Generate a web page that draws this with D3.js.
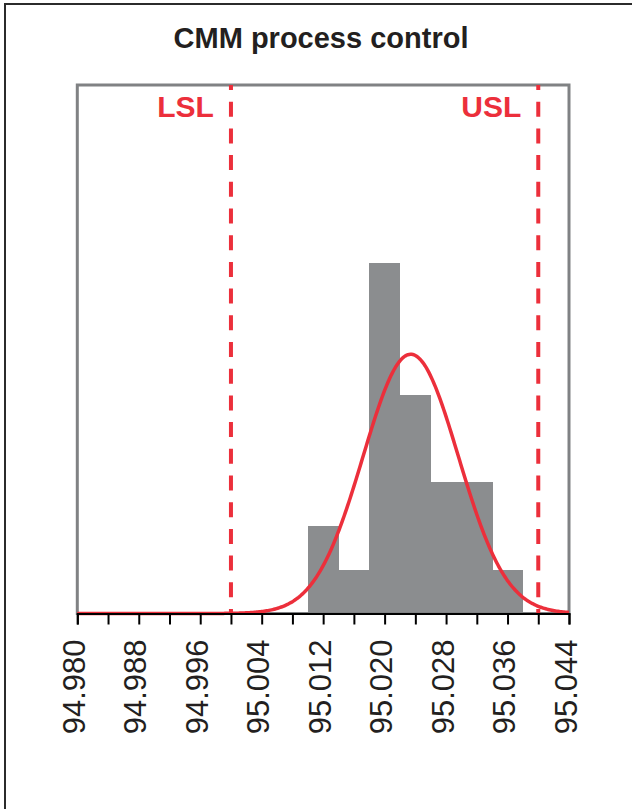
<!DOCTYPE html>
<html>
<head>
<meta charset="utf-8">
<script src="https://cdn.jsdelivr.net/npm/d3@7"></script>
<style>
  body { margin: 0; background: #fff; }
  text { font-family: "Liberation Sans", Arial, Helvetica, sans-serif; }
</style>
</head>
<body>
<script>
// histogram bins (left edge) and counts
const binStarts = [95.010, 95.014, 95.018, 95.022, 95.026, 95.030, 95.034]
const counts = [2, 1, 8, 5, 3, 3, 1]
const binWidth = 0.004

// fitted normal
const fitMean = 95.0234
const fitSigma = 0.0062

// spec limits
const limits = [{ name: "LSL", value: 95.000 }, { name: "USL", value: 95.040 }]

const tickValues = d3.range(17).map(i => +(94.980 + i * 0.004).toFixed(3))
const xDomain = [94.980, 95.044]

const width = 632
const height = 809
const red = "#ec2f3b"

const svg = d3.select("body").append("svg")
  .attr("width", width)
  .attr("height", height)

// outer frame (runs off the right and bottom edges)
svg.append("rect")
  .attr("x", 5).attr("y", 4)
  .attr("width", 700).attr("height", 900)
  .attr("fill", "none")
  .attr("stroke", "#2b2b2b")
  .attr("stroke-width", 2)

svg.append("text")
  .attr("x", 321)
  .attr("y", 48)
  .attr("text-anchor", "middle")
  .attr("font-size", "29px")
  .attr("font-weight", "bold")
  .attr("fill", "#231f20")
  .text("CMM process control")

const x = d3.scaleLinear().domain(xDomain).range([77.3, 569])
const y = d3.scaleLinear().domain([0, 12.07]).range([613.5, 85])

// bars
svg.append("g")
  .attr("shape-rendering", "crispEdges")
  .selectAll("rect")
  .data(binStarts)
  .enter().append("rect")
  .attr("x", d => x(d))
  .attr("width", d => x(d + binWidth) - x(d) + 0.5)
  .attr("y", (d, i) => y(counts[i]))
  .attr("height", (d, i) => y(0) - y(counts[i]))
  .attr("fill", "#8b8d8f")

// plot frame
svg.append("rect")
  .attr("x", x(xDomain[0]))
  .attr("y", y(12.07))
  .attr("width", x(xDomain[1]) - x(xDomain[0]))
  .attr("height", y(0) - y(12.07))
  .attr("fill", "none")
  .attr("stroke", "#808284")
  .attr("stroke-width", 3)

// normal curve scaled to counts
const n = d3.sum(counts)
const pdf = v => n * binWidth / (fitSigma * Math.sqrt(2 * Math.PI)) *
  Math.exp(-0.5 * Math.pow((v - fitMean) / fitSigma, 2))
const curveX = d3.range(0, 401).map(i => xDomain[0] + i * (xDomain[1] - xDomain[0]) / 400)

svg.append("path")
  .datum(curveX)
  .attr("fill", "none")
  .attr("stroke", red)
  .attr("stroke-width", 3.5)
  .attr("d", d3.line().x(d => x(d)).y(d => y(pdf(d))))

// spec limit lines
const lim = svg.append("g").selectAll("g").data(limits).enter().append("g")
lim.append("line")
  .attr("x1", d => x(d.value)).attr("x2", d => x(d.value))
  .attr("y1", y(12.07)).attr("y2", y(0))
  .attr("stroke", red)
  .attr("stroke-width", 4)
  .attr("stroke-dasharray", "15,11.7")
  .attr("stroke-dashoffset", 10)
lim.append("text")
  .attr("x", d => x(d.value) - 17)
  .attr("y", 116.5)
  .attr("text-anchor", "end")
  .attr("font-size", "30px")
  .attr("font-weight", "bold")
  .attr("fill", red)
  .text(d => d.name)

// x axis
const axis = svg.append("g")
  .attr("transform", `translate(0,${y(0)})`)
  .call(d3.axisBottom(x)
    .tickValues(tickValues)
    .tickSize(11)
    .tickFormat((d, i) => i % 2 === 0 ? d3.format(".3f")(d) : ""))

axis.select(".domain").attr("stroke", "#000").attr("stroke-width", 2)
axis.selectAll(".tick line").attr("stroke", "#000").attr("stroke-width", 2)
axis.selectAll(".tick text")
  .attr("transform", "rotate(-90)")
  .attr("text-anchor", "end")
  .attr("x", -26)
  .attr("y", -4)
  .attr("dy", "0.36em")
  .attr("font-size", "31px")
  .attr("font-family", "Liberation Sans, Arial, sans-serif")
  .attr("fill", "#231f20")
</script>
</body>
</html>
